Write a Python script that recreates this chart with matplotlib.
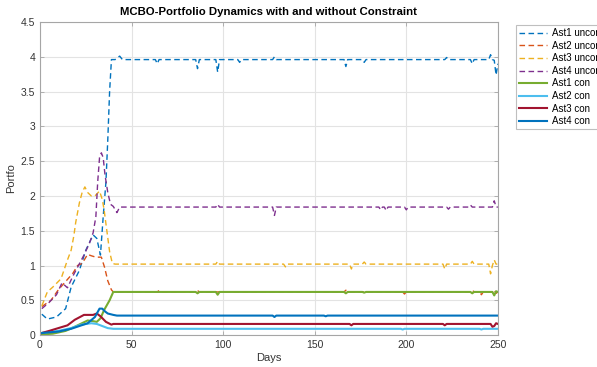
import numpy as np
import matplotlib
matplotlib.use('Agg')
import matplotlib.pyplot as plt

plt.rcParams['font.family'] = ['Liberation Sans', 'DejaVu Sans']

# (day, weight) knots for each asset, unconstrained then constrained
ast1_uncon = [(1, 0.30), (4, 0.23), (9, 0.26), (14, 0.38), (17, 0.69), (21.5, 0.93), (25, 1.22),
              (29, 1.44), (31, 1.39), (33, 1.15), (34.5, 1.7), (36, 2.2), (37, 2.8), (38, 3.5),
              (39, 3.96), (41, 3.96), (43.5, 4.01), (45, 3.96), (63, 3.96), (64, 3.9), (65, 3.96),
              (85, 3.96), (86, 3.83), (87, 3.96), (96, 3.96), (97, 3.78), (98, 3.96), (108, 3.96),
              (109, 3.92), (110, 3.96), (127, 3.96), (128, 4.0), (129, 3.96), (166, 3.96),
              (167, 3.86), (168, 3.96), (176, 3.96), (177, 3.92), (178, 3.96), (221, 3.96),
              (222, 3.99), (223, 3.96), (235, 3.96), (236, 3.9), (237, 3.96), (245, 3.96),
              (246, 4.03), (247, 3.96), (248, 3.95), (249, 3.74), (250, 3.9)]
ast2_uncon = [(1, 0.41), (6, 0.5), (10, 0.65), (14, 0.77), (18, 0.89), (20.5, 1.0), (23, 1.03),
              (26, 1.16), (28, 1.14), (30.5, 1.12), (33.5, 1.12), (35.3, 0.97), (37, 0.78),
              (39, 0.65), (40, 0.62), (64, 0.62), (65, 0.64), (66, 0.62), (85, 0.62), (86, 0.64),
              (87, 0.62), (166, 0.62), (167, 0.645), (168, 0.62), (198, 0.62), (199, 0.59),
              (200, 0.62), (235, 0.62), (236, 0.645), (237, 0.62), (240, 0.62), (241, 0.58),
              (242, 0.62), (247, 0.62), (248, 0.65), (249, 0.6), (250, 0.62)]
ast3_uncon = [(1, 0.42), (4, 0.62), (7, 0.69), (11.5, 0.81), (15, 1.08), (17, 1.22), (18.5, 1.43),
              (19.5, 1.62), (21.5, 1.9), (23, 2.05), (24.5, 2.13), (26, 2.05), (28, 2.0), (30, 2.0),
              (32.5, 2.07), (34, 1.95), (35, 1.8), (36.5, 1.5), (38, 1.2), (39.5, 1.03), (41, 1.02),
              (96, 1.02), (97, 1.06), (98, 1.02), (133, 1.02), (134, 0.98), (135, 1.02), (169, 1.02),
              (170, 0.95), (171, 1.02), (176, 1.02), (177, 1.05), (178, 1.02), (220, 1.02),
              (221, 0.95), (222, 1.02), (235, 1.02), (236, 1.06), (237, 1.02), (245, 1.02),
              (246, 0.88), (247, 1.0), (248, 1.08), (249, 1.02), (250, 1.02)]
ast4_uncon = [(1, 0.38), (5, 0.47), (9, 0.58), (12, 0.75), (15, 0.68), (18, 0.85), (21, 1.0),
              (24, 1.15), (27, 1.32), (29, 1.47), (30.5, 1.7), (31.5, 2.2), (32.5, 2.55),
              (33.5, 2.62), (34.5, 2.55), (35.5, 2.3), (37, 2.05), (38.5, 1.88), (40, 1.85),
              (42, 1.76), (43.5, 1.84), (96, 1.84), (97, 1.88), (98, 1.84), (127, 1.84), (128, 1.72),
              (129, 1.84), (185, 1.84), (186, 1.8), (187, 1.84), (188, 1.84), (189, 1.79),
              (190, 1.84), (199, 1.84), (200, 1.8), (201, 1.84), (222, 1.84), (223, 1.81),
              (224, 1.84), (234, 1.84), (235, 1.87), (236, 1.84), (247, 1.84), (248, 1.93),
              (249, 1.84), (250, 1.84)]
ast1_con = [(1, 0.01), (7, 0.02), (14, 0.06), (19, 0.12), (26, 0.21), (29, 0.2), (31, 0.19),
            (33, 0.24), (35, 0.36), (38, 0.5), (40, 0.62), (85, 0.62), (86, 0.6), (87, 0.62),
            (96, 0.62), (97, 0.58), (98, 0.62), (166, 0.62), (167, 0.6), (168, 0.62), (176, 0.62),
            (177, 0.61), (178, 0.62), (235, 0.62), (236, 0.6), (237, 0.62), (247, 0.62),
            (248, 0.57), (249, 0.63), (250, 0.62)]
ast2_con = [(1, 0.03), (10, 0.06), (17, 0.1), (22.5, 0.15), (28, 0.17), (31, 0.16), (33, 0.14),
            (37, 0.1), (40, 0.09), (197, 0.09), (198, 0.08), (199, 0.09), (240, 0.09), (241, 0.08),
            (242, 0.09), (250, 0.09)]
ast3_con = [(1, 0.03), (5, 0.06), (10, 0.1), (15, 0.14), (19, 0.22), (24, 0.29), (29, 0.29),
            (31, 0.31), (33, 0.27), (36, 0.19), (39, 0.15), (40, 0.16), (169, 0.16), (170, 0.14),
            (171, 0.16), (220, 0.16), (221, 0.14), (222, 0.16), (246, 0.16), (247, 0.12),
            (248, 0.13), (249, 0.17), (250, 0.16)]
ast4_con = [(1, 0.03), (10, 0.05), (17, 0.09), (26, 0.17), (30, 0.26), (32.5, 0.38), (34, 0.38),
            (35.5, 0.34), (37, 0.31), (40, 0.29), (42, 0.28), (127, 0.28), (128, 0.26),
            (129, 0.28), (155, 0.28), (156, 0.27), (157, 0.28), (250, 0.28)]

series = [ast1_uncon, ast2_uncon, ast3_uncon, ast4_uncon, ast1_con, ast2_con, ast3_con, ast4_con]
names = ['Ast1 uncon', 'Ast2 uncon', 'Ast3 uncon', 'Ast4 uncon',
         'Ast1 con', 'Ast2 con', 'Ast3 con', 'Ast4 con']
colors = ['#0072BD', '#D95319', '#EDB120', '#7E2F8E',
          '#77AC30', '#4DBEEE', '#A2142F', '#0072BD']

xticks = [0, 50, 100, 150, 200, 250]
yticks = [0, 0.5, 1, 1.5, 2, 2.5, 3, 3.5, 4, 4.5]
ytick_labels = ['0', '0.5', '1', '1.5', '2', '2.5', '3', '3.5', '4', '4.5']

fig = plt.figure(figsize=(5.97, 3.67), dpi=100)
ax = fig.add_axes([0.067, 0.087, 0.767, 0.853])

for i, (data, name, c) in enumerate(zip(series, names, colors)):
    d, v = zip(*data)
    if i < 4:
        ax.plot(d, v, color=c, lw=1.0, dashes=(4, 2.5), label=name)
    else:
        ax.plot(d, v, color=c, lw=1.5, label=name)

ax.set_xlim(0, 250)
ax.set_ylim(0, 4.5)
ax.set_xticks(xticks)
ax.set_yticks(yticks)
ax.set_yticklabels(ytick_labels)
ax.grid(True, color='#e3e3e3', lw=0.8)
ax.set_axisbelow(True)
for s in ax.spines.values():
    s.set_color('#a6a6a6')
    s.set_linewidth(0.8)
ax.tick_params(direction='in', length=3, width=0.6, color='#a6a6a6',
               labelsize=7.5, labelcolor='#333333', top=True, right=True)
ax.set_xlabel('Days', fontsize=8, color='#333333', labelpad=2)
ax.set_ylabel('Portfo', fontsize=8, color='#333333', labelpad=3)
ax.set_title('MCBO-Portfolio Dynamics with and without Constraint',
             fontsize=8.2, fontweight='bold', pad=5)

leg = ax.legend(loc='upper left', bbox_to_anchor=(0.864, 0.932),
                bbox_transform=fig.transFigure, fontsize=7, frameon=True,
                fancybox=False, handlelength=2.9, handletextpad=0.5,
                labelspacing=0.26, borderpad=0.35, borderaxespad=0)
leg.get_frame().set_edgecolor('#b0b0b0')
leg.get_frame().set_linewidth(0.8)

fig.savefig('out.png', dpi=100)
